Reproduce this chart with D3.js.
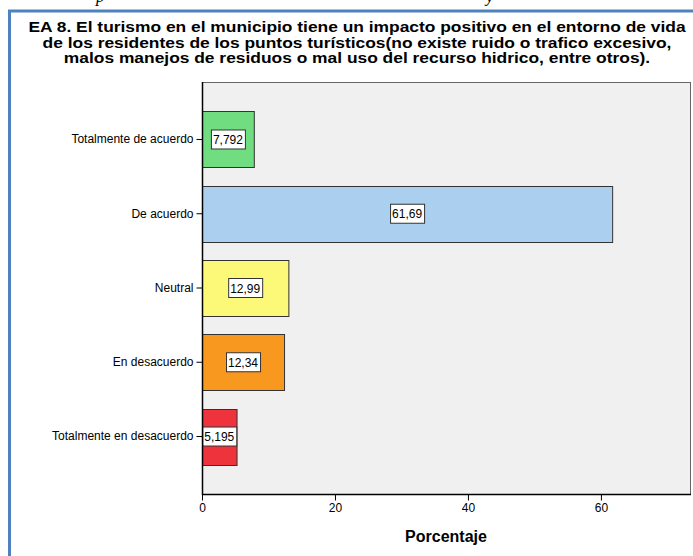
<!DOCTYPE html>
<html>
<head>
<meta charset="utf-8">
<script src="https://cdn.jsdelivr.net/npm/d3@7"></script>
<style>
  body { margin: 0; background: #fff; }
  svg { display: block; font-family: "Liberation Sans", Arial, sans-serif; }
</style>
</head>
<body>
<script>
const width = 693;
const height = 556;

// data
const categories = ["Totalmente de acuerdo", "De acuerdo", "Neutral", "En desacuerdo", "Totalmente en desacuerdo"];
const values = [7.792, 61.69, 12.99, 12.34, 5.195];
const valueLabels = ["7,792", "61,69", "12,99", "12,34", "5,195"];
const barColors = ["#70dd80", "#abcfee", "#fcf979", "#f8981f", "#ef333c"];
const xTicks = [0, 20, 40, 60];
const titleLines = [
    "EA 8. El turismo en el municipio tiene un impacto positivo en el entorno de vida",
    "de los residentes de los puntos turísticos(no existe ruido o trafico excesivo,",
    "malos manejos de residuos o mal uso del recurso hidrico, entre otros)."
];

const plot = { left: 202, right: 690, top: 82, bottom: 494 };

const svg = d3.select("body")
    .append("svg")
    .attr("width", width)
    .attr("height", height);

// caption above the frame, cut off by the page edge as in the reference
svg.append("text")
    .attr("x", 96).attr("y", 2)
    .attr("font-family", "Liberation Serif, serif")
    .attr("font-style", "italic")
    .attr("font-size", 17)
    .text("p");
svg.append("text")
    .attr("x", 486).attr("y", 2)
    .attr("font-family", "Liberation Serif, serif")
    .attr("font-style", "italic")
    .attr("font-size", 17)
    .text("y");

// blue frame (top and left)
svg.append("path")
    .attr("d", `M9.5,${height} L9.5,11 L${width},11`)
    .attr("fill", "none")
    .attr("stroke", "#4f81bd")
    .attr("stroke-width", 3);

// title - wide, short glyphs like the SPSS output, so stretch horizontally
const titleScale = 1.2;
svg.append("g")
    .attr("transform", `translate(357,0) scale(${titleScale},1)`)
    .selectAll("text")
    .data(titleLines)
    .enter()
    .append("text")
    .attr("x", 0)
    .attr("y", (d, i) => 32.5 + i * 15.5)
    .attr("text-anchor", "middle")
    .attr("font-size", 14.5)
    .attr("font-weight", "bold")
    .attr("fill", "#000")
    .text(d => d);

const xScale = d3.scaleLinear()
    .domain([0, 73.4])
    .range([plot.left, plot.right]);

const yScale = d3.scaleBand()
    .domain(categories)
    .range([plot.top, plot.bottom])
    .paddingInner(0.246)
    .paddingOuter(0.397);

// plot background
svg.append("rect")
    .attr("x", plot.left + 0.5)
    .attr("y", plot.top + 0.5)
    .attr("width", plot.right - plot.left)
    .attr("height", plot.bottom - plot.top)
    .attr("fill", "#f0f0f0")
    .attr("stroke", "#666")
    .attr("stroke-width", 1);

// bars
svg.append("g")
    .selectAll("rect")
    .data(values)
    .enter()
    .append("rect")
    .attr("x", xScale(0) + 0.5)
    .attr("y", (d, i) => Math.round(yScale(categories[i])) + 0.5)
    .attr("width", d => xScale(d) - xScale(0))
    .attr("height", Math.round(yScale.bandwidth()))
    .attr("fill", (d, i) => barColors[i])
    .attr("stroke", "#333")
    .attr("stroke-width", 1);

// value labels
const labels = svg.append("g")
    .selectAll("g")
    .data(values)
    .enter()
    .append("g")
    .attr("transform", (d, i) => `translate(${(xScale(0) + xScale(d)) / 2}, ${yScale(categories[i]) + yScale.bandwidth() / 2})`);

labels.append("text")
    .attr("text-anchor", "middle")
    .attr("y", 4.5)
    .attr("font-size", 12)
    .attr("fill", "#000")
    .text((d, i) => valueLabels[i]);

labels.each(function () {
    const g = d3.select(this);
    const bb = g.select("text").node().getBBox();
    g.insert("rect", "text")
        .attr("x", Math.round(bb.x - 2) + 0.5)
        .attr("y", -9.5)
        .attr("width", Math.round(bb.width + 4))
        .attr("height", 19)
        .attr("fill", "#fff")
        .attr("stroke", "#333")
        .attr("stroke-width", 1);
});

// y axis
const yAxis = svg.append("g")
    .attr("transform", `translate(${plot.left + 0.5},0)`)
    .call(d3.axisLeft(yScale).tickSize(6).tickPadding(3));
yAxis.select(".domain").remove();
yAxis.selectAll("line").attr("stroke", "#000");
yAxis.selectAll("text")
    .attr("font-size", 12)
    .attr("font-family", "Liberation Sans, Arial, sans-serif")
    .attr("fill", "#000");
svg.append("line")
    .attr("x1", plot.left + 0.5).attr("x2", plot.left + 0.5)
    .attr("y1", plot.top).attr("y2", plot.bottom + 1)
    .attr("stroke", "#000")
    .attr("stroke-width", 1.5);

// x axis
const xAxis = svg.append("g")
    .attr("transform", `translate(0,${plot.bottom + 0.5})`)
    .call(d3.axisBottom(xScale).tickValues(xTicks).tickSize(6).tickPadding(3).tickFormat(d3.format("d")));
xAxis.select(".domain").remove();
xAxis.selectAll("line").attr("stroke", "#000");
xAxis.selectAll("text")
    .attr("font-size", 12)
    .attr("font-family", "Liberation Sans, Arial, sans-serif")
    .attr("fill", "#000");
svg.append("line")
    .attr("x1", plot.left).attr("x2", plot.right + 1)
    .attr("y1", plot.bottom + 0.5).attr("y2", plot.bottom + 0.5)
    .attr("stroke", "#000")
    .attr("stroke-width", 1.5);

svg.append("text")
    .attr("x", (plot.left + plot.right) / 2)
    .attr("y", 542)
    .attr("text-anchor", "middle")
    .attr("font-size", 16)
    .attr("font-weight", "bold")
    .attr("fill", "#000")
    .text("Porcentaje");
</script>
</body>
</html>
